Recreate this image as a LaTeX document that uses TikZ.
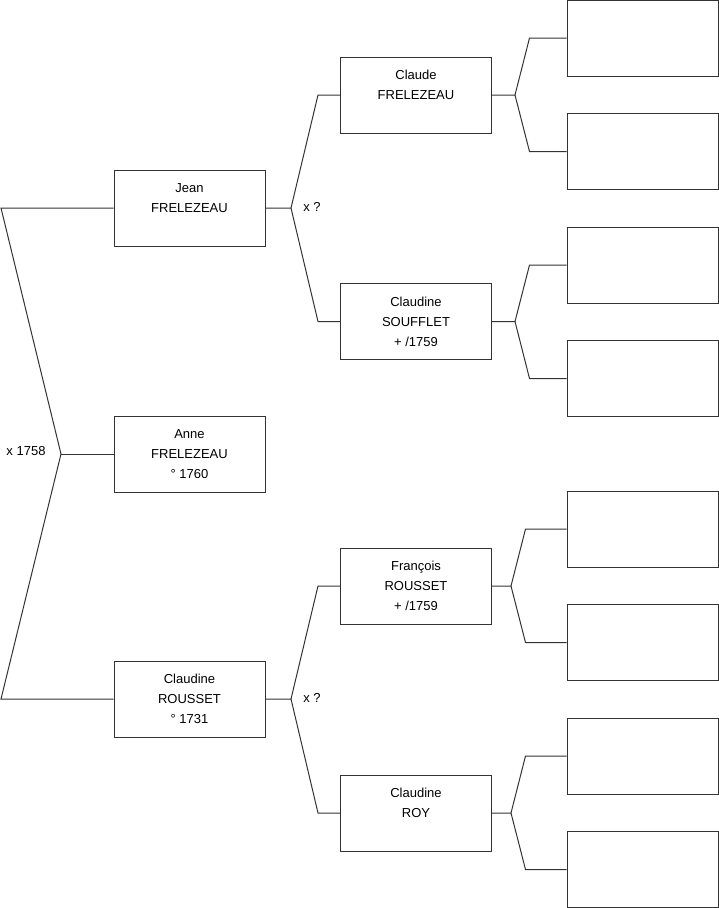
\documentclass[tikz,border=0pt]{standalone}
\usepackage{fontspec}
\setmainfont{Liberation Sans}
\begin{document}
\begin{tikzpicture}[x=1pt,y=-1pt,
  person/.style={draw=black!80,line width=1pt,fill=white,minimum width=151pt,minimum height=76pt,
    inner sep=0pt,align=center,font=\fontsize{13}{20}\selectfont},
  leaf/.style={person},
  conn/.style={draw=black!80,line width=1pt},
  lbl/.style={font=\fontsize{13}{15}\selectfont,inner sep=0pt}]
\useasboundingbox (0,0) rectangle (719,908);
% level 1
\node[person] (jean) at (189.5,208) {Jean\\FRELEZEAU\\\phantom{° 1760}};
\node[person] (anne) at (189.5,454) {Anne\\FRELEZEAU\\° 1760};
\node[person] (rousset) at (189.5,699) {Claudine\\ROUSSET\\° 1731};
% level 2
\node[person] (claude) at (416,95) {Claude\\FRELEZEAU\\\phantom{° 1760}};
\node[person] (soufflet) at (416,321.5) {Claudine\\SOUFFLET\\+ /1759};
\node[person] (francois) at (416,586) {François\\ROUSSET\\+ /1759};
\node[person] (roy) at (416,813) {Claudine\\ROY\\\phantom{° 1760}};
% level 3
\node[leaf] (a1) at (642.5,38) {};
\node[leaf] (a2) at (642.5,151.5) {};
\node[leaf] (a3) at (642.5,265) {};
\node[leaf] (a4) at (642.5,378.5) {};
\node[leaf] (a5) at (642.5,529) {};
\node[leaf] (a6) at (642.5,642.5) {};
\node[leaf] (a7) at (642.5,756) {};
\node[leaf] (a8) at (642.5,869.5) {};
% level 1 connectors
\coordinate (l1) at (1,208);
\coordinate (j0) at (61,454);
\coordinate (l2) at (1,699);
\draw[conn] (jean.west) -- (l1) -- (j0) -- (l2) -- (rousset.west);
\draw[conn] (j0) -- (anne.west);
\node[lbl] (m0) at (26,451) {x 1758};
% level 2 connectors
\coordinate (jA) at (291,208);
\coordinate (cA1) at (318,95);
\coordinate (cA2) at (318,321.5);
\draw[conn] (jean.east) -- (jA) -- (cA1) -- (claude.west);
\draw[conn] (jA) -- (cA2) -- (soufflet.west);
\node[lbl] (mA) at (312,207) {x ?};
\coordinate (jB) at (291,699);
\coordinate (cB1) at (318,586);
\coordinate (cB2) at (318,813);
\draw[conn] (rousset.east) -- (jB) -- (cB1) -- (francois.west);
\draw[conn] (jB) -- (cB2) -- (roy.west);
\node[lbl] (mB) at (312,698) {x ?};
% level 3 connectors
\coordinate (k1) at (515,95);
\draw[conn] (claude.east) -- (k1) -- (529.5,38) -- (a1.west);
\draw[conn] (k1) -- (529.5,151.5) -- (a2.west);
\coordinate (k2) at (515,321.5);
\draw[conn] (soufflet.east) -- (k2) -- (529.5,265) -- (a3.west);
\draw[conn] (k2) -- (529.5,378.5) -- (a4.west);
\coordinate (k3) at (511,586);
\draw[conn] (francois.east) -- (k3) -- (525.5,529) -- (a5.west);
\draw[conn] (k3) -- (525.5,642.5) -- (a6.west);
\coordinate (k4) at (511,813);
\draw[conn] (roy.east) -- (k4) -- (525.5,756) -- (a7.west);
\draw[conn] (k4) -- (525.5,869.5) -- (a8.west);
\end{tikzpicture}
\end{document}
